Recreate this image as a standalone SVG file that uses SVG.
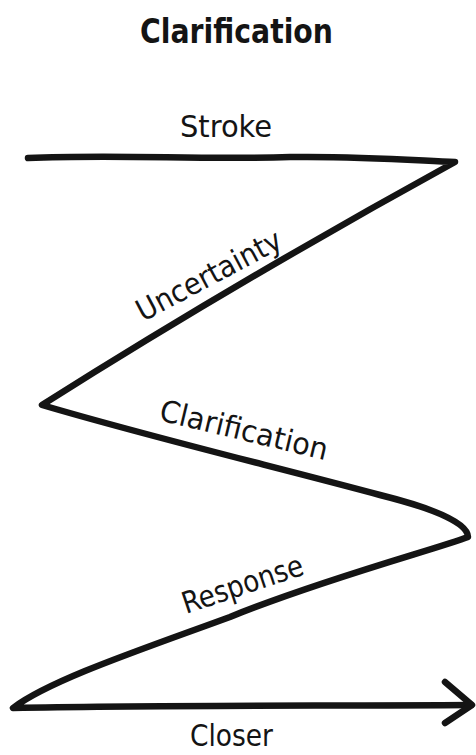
<svg xmlns="http://www.w3.org/2000/svg" width="476" height="755" viewBox="0 0 476 755">
<style>
.ln{fill:none;stroke:#141414;stroke-width:6.5;stroke-linecap:round;stroke-linejoin:round}
.t{font-family:"DejaVu Sans Condensed","DejaVu Sans",sans-serif;fill:#141414}
.title{font-weight:bold;font-size:34px}
.lbl{font-size:30px}
</style>
<rect width="476" height="755" fill="#fff"/>
<g id="title"><text class="t title" x="140" y="43" textLength="193" lengthAdjust="spacingAndGlyphs">Clarification</text></g>
<g id="connectors">
<path class="ln" d="M28,158 C120,154 200,160 290,157 C360,156 410,160 455,162 Q240,280 42,405 C150,437 280,468 380,495 C440,510 468,524 468,537 C440,548 320,580 230,617 C140,650 50,680 13,708 C150,705 320,706 471,705"/>
<path class="ln" d="M445,682 L472,705 L445,723"/>
</g>
<g id="stroke"><text class="t lbl" x="180" y="137" textLength="92" lengthAdjust="spacingAndGlyphs">Stroke</text></g>
<g id="uncertainty"><text class="t lbl" transform="translate(143,322) rotate(-28)" x="0" y="0" textLength="160" lengthAdjust="spacingAndGlyphs">Uncertainty</text></g>
<g id="clarification"><text class="t lbl" transform="translate(158,420) rotate(13.5)" x="0" y="0" textLength="172" lengthAdjust="spacingAndGlyphs">Clarification</text></g>
<g id="response"><text class="t lbl" transform="translate(186,614) rotate(-18.5)" x="0" y="0" textLength="126" lengthAdjust="spacingAndGlyphs">Response</text></g>
<g id="closer"><text class="t lbl" x="190" y="746" textLength="83" lengthAdjust="spacingAndGlyphs">Closer</text></g>
</svg>
